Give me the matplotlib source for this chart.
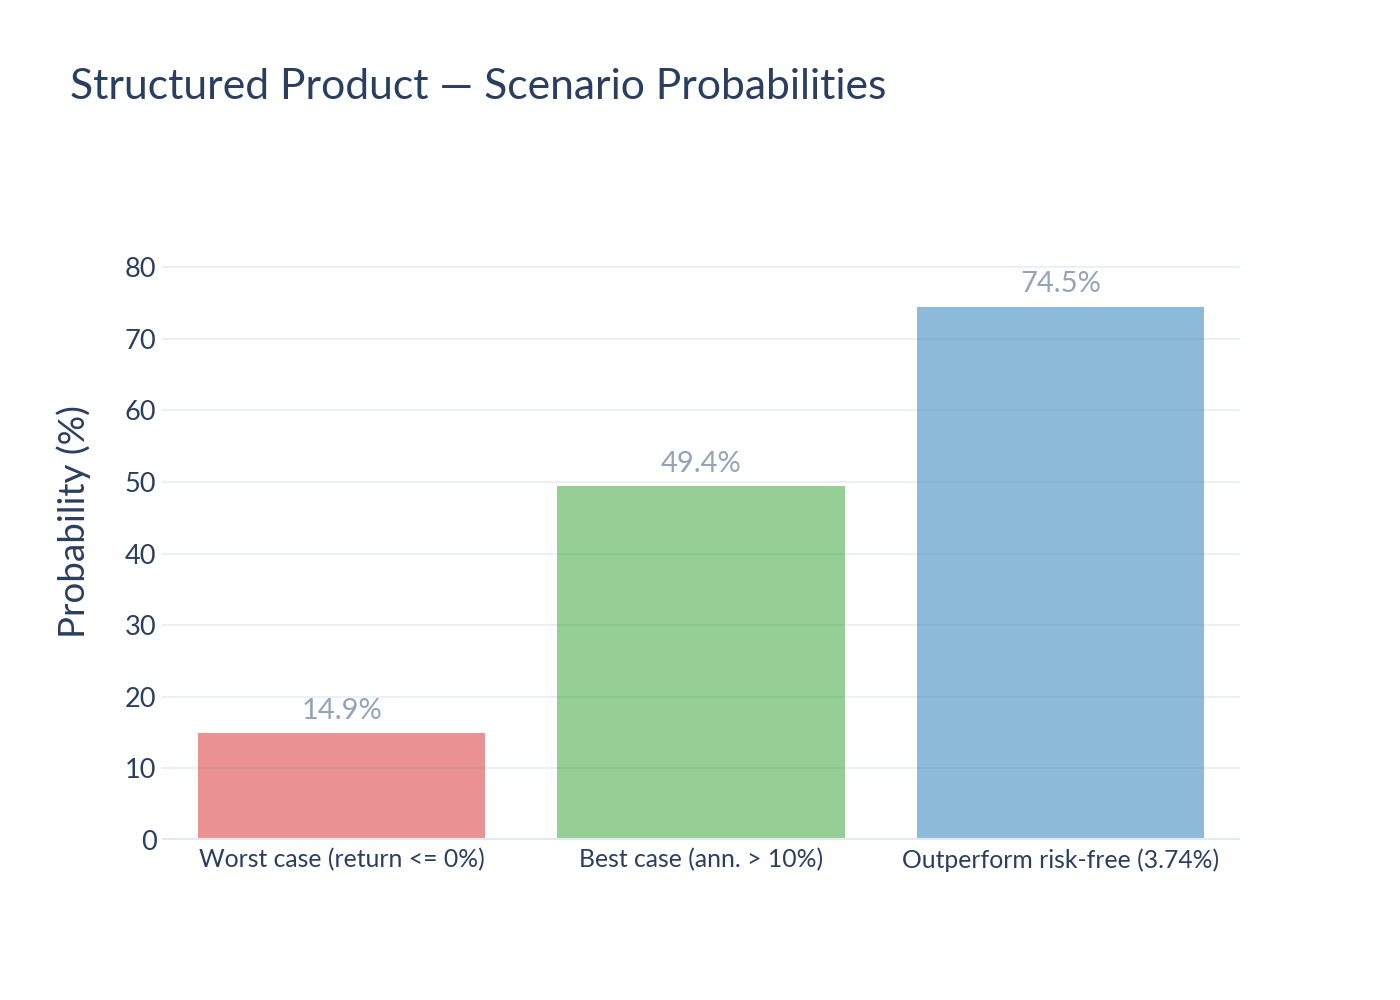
import numpy as np
import matplotlib.pyplot as plt

scenarios = ['Worst case (return <= 0%)', 'Best case (ann. > 10%)', 'Outperform risk-free (3.74%)']
probs = [14.9, 49.4, 74.5]
colors = ['#d62728', '#2ca02c', '#1f77b4']
yticks = [0, 10, 20, 30, 40, 50, 60, 70, 80]

plt.rcParams['font.family'] = ['Lato', 'DejaVu Sans']
text_col = '#2a3f5f'
grid_col = '#ebf0f8'

fig = plt.figure(figsize=(14, 10), dpi=100)
ax = fig.add_axes([0.1157, 0.16, 0.77, 0.587])

x = np.arange(len(scenarios))
ax.bar(x, probs, width=0.8, color=colors, alpha=0.5, zorder=2)
for xi, p in zip(x, probs):
    ax.annotate(f'{p}%', (xi, p), xytext=(0, 7), textcoords='offset points',
                ha='center', va='bottom', fontsize=21, color='#94a3b8')

ax.set_xlim(-0.5, 2.5)
ax.set_ylim(0, 82)
ax.set_yticks(yticks)
ax.set_xticks(x)
ax.set_xticklabels(scenarios, fontsize=17.8, color=text_col)
ax.tick_params(axis='y', labelsize=19.5, labelcolor=text_col, length=0, pad=4)
ax.tick_params(axis='x', length=0, pad=6)
ax.grid(axis='y', color=grid_col, linewidth=1.5, zorder=0)
ax.axhline(0, color='#e3e9f3', linewidth=3, zorder=3)
for s in ax.spines.values():
    s.set_visible(False)
ax.set_ylabel('Probability (%)', fontsize=26.5, color=text_col)
ax.yaxis.set_label_coords(-0.066, 0.543)

fig.text(0.05, 0.913, 'Structured Product — Scenario Probabilities', fontsize=30.7,
         color=text_col, ha='left', va='center')

fig.savefig('out.png', dpi=100, facecolor='white')
